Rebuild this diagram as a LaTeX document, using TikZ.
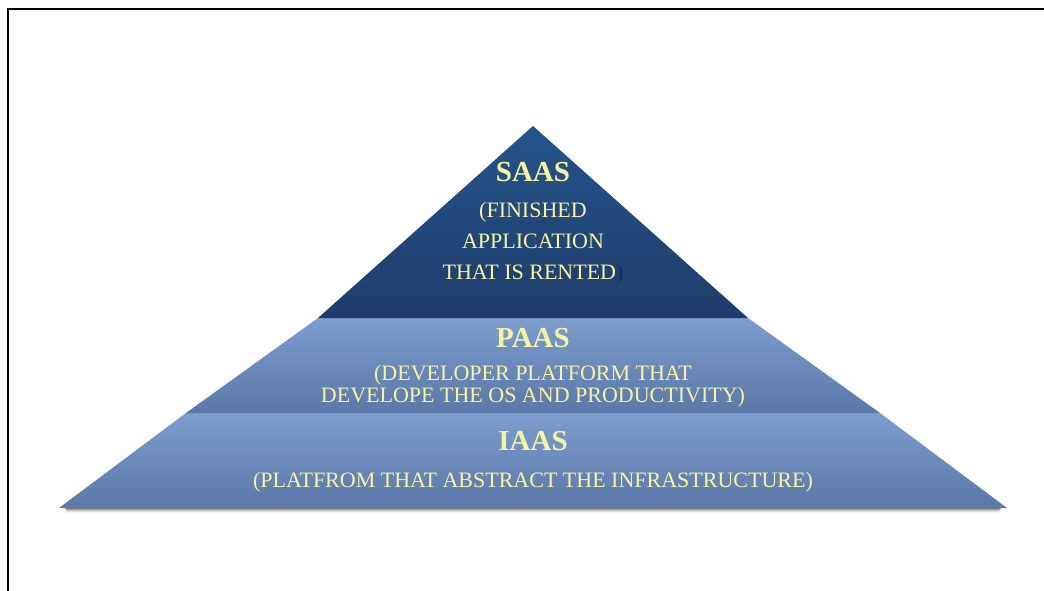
\documentclass[tikz,border=0pt]{standalone}
\usepackage{fontspec}
\setmainfont{Liberation Serif}
\usetikzlibrary{calc}
\definecolor{txtyel}{RGB}{246,243,163}
\definecolor{saastop}{RGB}{38,84,140}
\definecolor{saasbot}{RGB}{30,60,106}
\definecolor{layertop}{RGB}{124,157,206}
\definecolor{layerbot}{RGB}{90,120,168}
\definecolor{hiddenparen}{RGB}{22,48,92}
\tikzset{
  lbl/.style={text=txtyel, inner sep=0pt, align=center},
  title/.style={lbl, font=\bfseries\fontsize{29}{31}\selectfont},
  desc/.style={lbl, font=\fontsize{22}{31}\selectfont},
  frame/.style={line width=2pt, black}
}
\begin{document}
\begin{tikzpicture}[x=1pt,y=-1pt]
\useasboundingbox (0,0) rectangle (1044,591);
\fill[white] (0,0) rectangle (1044,591);
% frame (left and top only visible)
\coordinate (fbl) at (7.5,591);
\coordinate (ftl) at (7.5,9.5);
\coordinate (ftr) at (1044,9.5);
\draw[frame] (fbl) -- (ftl) -- (ftr);
% corners
\coordinate (apex) at (533,126);
\coordinate (s1) at (318,318);
\coordinate (s2) at (748,318);
\coordinate (p1) at (186,413);
\coordinate (p2) at (880,413);
\coordinate (i1) at (59,508);
\coordinate (i2) at (1007,508);
% soft shadow under the base
\foreach \d/\o in {1/0.25,2/0.18,3/0.12,4/0.07,5/0.04}{
  \fill[black, opacity=\o] ($(i1)+(6,0)$) -- ($(i2)+(-6,0)$) -- ($(i2)+(-8,\d)$) -- ($(i1)+(8,\d)$) -- cycle;
}
% layers
\shade[top color=layertop, bottom color=layerbot] (p1) -- (p2) -- (i2) -- (i1) -- cycle;
\shade[top color=layertop, bottom color=layerbot] (s1) -- (s2) -- (p2) -- (p1) -- cycle;
\shade[top color=saastop, bottom color=saasbot] (apex) -- (s2) -- (s1) -- cycle;
% texts
\node[title] (saas) at (533,172) {SAAS};
\node[desc] (saasd) at (533,243) {(FINISHED\\APPLICATION\\THAT IS RENTED\textcolor{hiddenparen}{)}};
\node[title] (paas) at (533,338) {PAAS};
\node[lbl, font=\fontsize{22}{22}\selectfont] (paasd) at (533,386) {(DEVELOPER PLATFORM THAT\\DEVELOPE THE OS AND PRODUCTIVITY)};
\node[title] (iaas) at (533,441) {IAAS};
\node[desc] (iaasd) at (533,482) {(PLATFROM THAT ABSTRACT THE INFRASTRUCTURE)};
\end{tikzpicture}
\end{document}
